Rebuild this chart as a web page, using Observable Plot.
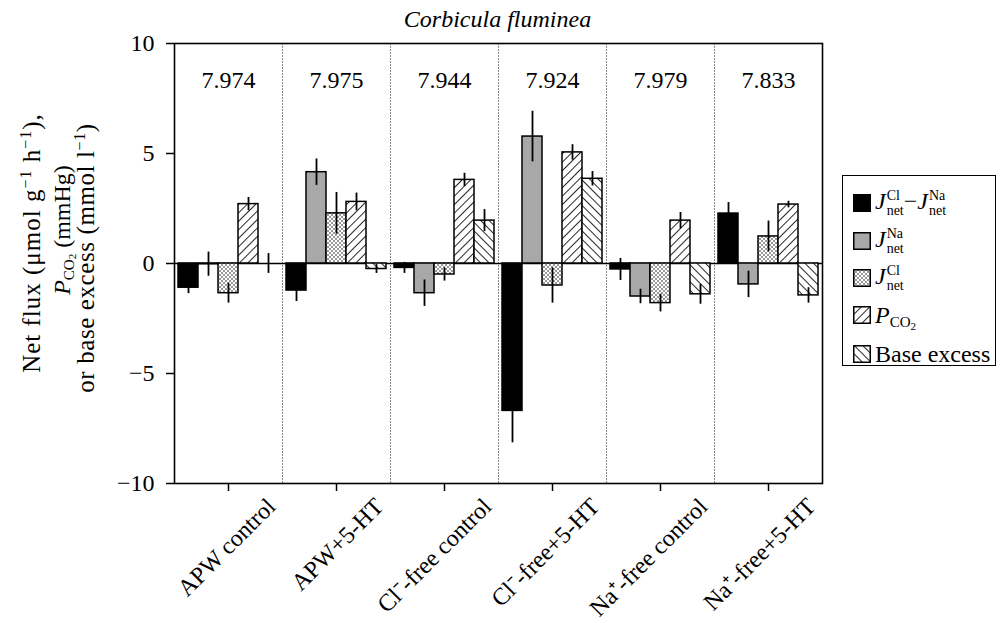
<!DOCTYPE html>
<html><head><meta charset="utf-8">
<script src="https://cdn.jsdelivr.net/npm/d3@7"></script>
<script src="https://cdn.jsdelivr.net/npm/@observablehq/plot@0.6"></script>
<style>
body{margin:0;background:#fff;font-family:"Liberation Serif","Times New Roman",serif;color:#000;}
#wrap{position:relative;width:1005px;height:623px;overflow:hidden;}
#title{position:absolute;left:173px;width:649px;top:7px;text-align:center;font-style:italic;font-size:24px;line-height:24px;}
.ylab{position:absolute;width:360px;height:26px;line-height:26px;text-align:center;font-size:25px;transform:rotate(-90deg);transform-origin:50% 50%;white-space:nowrap;}
.ylab sup{font-size:16px;vertical-align:9px;line-height:0;}
.ylab sub{font-size:15px;vertical-align:-4px;line-height:0;}
#legend{position:absolute;left:842px;top:175px;width:152px;height:189px;border:1.5px solid #000;}
.row{position:absolute;left:10px;height:30px;display:flex;align-items:center;font-size:24px;white-space:nowrap;}
.row svg{margin-right:4px;flex:none;}
.ss{display:inline-flex;flex-direction:column;font-size:14px;line-height:15px;vertical-align:middle;margin-left:1px;}
.ss span{display:block;text-align:left;height:15px;}
sub.s{font-size:15px;vertical-align:-4px;line-height:0;}
sub.s2{font-size:11px;vertical-align:-3px;line-height:0;}
</style></head><body>
<svg width="0" height="0" style="position:absolute">
<defs>
<pattern id="dots" width="4" height="4" patternUnits="userSpaceOnUse"><rect width="4" height="4" fill="white"/><circle cx="1" cy="1" r="0.75" fill="black"/><circle cx="3" cy="3" r="0.75" fill="black"/></pattern>
<pattern id="hatchF" width="6" height="6" patternUnits="userSpaceOnUse" patternTransform="rotate(45)"><rect width="6" height="6" fill="white"/><line x1="0" y1="0" x2="0" y2="6" stroke="black" stroke-width="1.7"/></pattern>
<pattern id="hatchB" width="6" height="6" patternUnits="userSpaceOnUse" patternTransform="rotate(-45)"><rect width="6" height="6" fill="white"/><line x1="0" y1="0" x2="0" y2="6" stroke="black" stroke-width="1.7"/></pattern>
</defs></svg>
<div id="wrap">
<div id="title">Corbicula fluminea</div>
<div class="ylab" style="left:-148px;top:230px;letter-spacing:1px;">Net flux (μmol g<sup>−1</sup> h<sup>−1</sup>),</div>
<div class="ylab" style="left:-118px;top:217px;font-size:24px;"><i>P</i><sub>CO<sub style="font-size:11px;vertical-align:-2px">2</sub></sub> (mmHg)</div>
<div class="ylab" style="left:-94px;top:245px;letter-spacing:0.6px;">or base excess (mmol l<sup>−1</sup>)</div>
<div id="chart" style="position:absolute;left:0;top:0;"></div>
<div id="legend"></div>
</div>
<script>
const groups = ["APW control","APW+5-HT","Cl⁻-free control","Cl⁻-free+5-HT","Na⁺-free control","Na⁺-free+5-HT"];
const pHValues = ["7.974","7.975","7.944","7.924","7.979","7.833"];
const series = ["JCl−JNa","JNa","JCl","PCO2","Base excess"];
const diffVals = [-1.1, -1.23, -0.2, -6.7, -0.27, 2.27];
const diffErr  = [0.27, 0.5, 0.25, 1.45, 0.5, 0.5];
const naVals   = [-0.03, 4.15, -1.35, 5.77, -1.5, -0.95];
const naErr    = [0.55, 0.6, 0.6, 1.15, 0.33, 0.6];
const clVals   = [-1.35, 2.28, -0.5, -1.0, -1.8, 1.23];
const clErr    = [0.45, 0.95, 0.3, 0.8, 0.4, 0.7];
const pco2Vals = [2.7, 2.8, 3.8, 5.05, 1.95, 2.68];
const pco2Err  = [0.3, 0.4, 0.3, 0.35, 0.37, 0.15];
const baseVals = [0, -0.25, 1.95, 3.85, -1.4, -1.45];
const baseErr  = [0.45, 0.2, 0.5, 0.33, 0.45, 0.35];
const yTicks = [-10, -5, 0, 5, 10];
const fills = ["black", "#a8a8a8", "url(#dots)", "url(#hatchF)", "url(#hatchB)"];

const allVals = [diffVals, naVals, clVals, pco2Vals, baseVals];
const allErrs = [diffErr, naErr, clErr, pco2Err, baseErr];
const data = series.flatMap((s, i) => groups.map((g, j) => ({group: g, series: s, value: allVals[i][j], err: allErrs[i][j]})));

const chart = Plot.plot({
  width: 1005, height: 623,
  marginLeft: 173, marginRight: 183, marginTop: 43, marginBottom: 140,
  style: {fontFamily: "'Liberation Serif','Times New Roman',serif", fontSize: "24px", background: "transparent", color: "black", overflow: "visible"},
  fx: {domain: groups, padding: 0, axis: null, label: null},
  x: {domain: series, paddingInner: 0, paddingOuter: 0.2, axis: null},
  y: {domain: [-10, 10], axis: null},
  color: {domain: series, range: fills},
  marks: [
    Plot.frame({stroke: "#888", strokeDasharray: "1.5,1.5", strokeWidth: 1}),
    Plot.ruleY([0], {stroke: "black", strokeWidth: 1.6}),
    Plot.barY(data, {fx: "group", x: "series", y: "value", fill: "series", stroke: "black", strokeWidth: 1.5}),
    Plot.ruleX(data, {fx: "group", x: "series", y1: d => d.value - d.err, y2: d => d.value + d.err, stroke: "black", strokeWidth: 1.8}),
    Plot.text(groups, {fx: d => d, text: (d, i) => pHValues[i], frameAnchor: "top", dy: 27, fontSize: 24}),
    Plot.frame({facet: "super", stroke: "black", strokeWidth: 1.6}),
    Plot.axisY({anchor: "left", ticks: yTicks, tickSize: 8, tickPadding: 12, label: null, fontSize: 24, strokeWidth: 1.5}),
    Plot.axisFx({anchor: "bottom", tickSize: 8, tickFormat: () => "", label: null, strokeWidth: 1.5}),
    Plot.text(groups, {fx: d => d, text: d => d, frameAnchor: "bottom", rotate: -45, textAnchor: "end", lineAnchor: "middle", dx: 43, dy: 19, fontSize: 24})
  ]
});
document.getElementById("chart").append(chart);

const legendLabels = [
  '<i>J</i><span class="ss"><span>Cl</span><span>net</span></span>−<i>J</i><span class="ss"><span>Na</span><span>net</span></span>',
  '<i>J</i><span class="ss"><span>Na</span><span>net</span></span>',
  '<i>J</i><span class="ss"><span>Cl</span><span>net</span></span>',
  '<i>P</i><sub class="s">CO<sub class="s2">2</sub></sub>',
  'Base excess'
];
const legendCenters = [27, 65, 102, 139, 178];
const leg = document.getElementById("legend");
series.forEach((s, i) => {
  const row = document.createElement("div");
  row.className = "row";
  row.style.top = (legendCenters[i] - 15) + "px";
  row.innerHTML = `<svg width="18" height="18"><rect x="0.75" y="0.75" width="16.5" height="16.5" fill="${fills[i]}" stroke="black" stroke-width="1.5"/></svg><span>${legendLabels[i]}</span>`;
  leg.append(row);
});
</script>
</body></html>
